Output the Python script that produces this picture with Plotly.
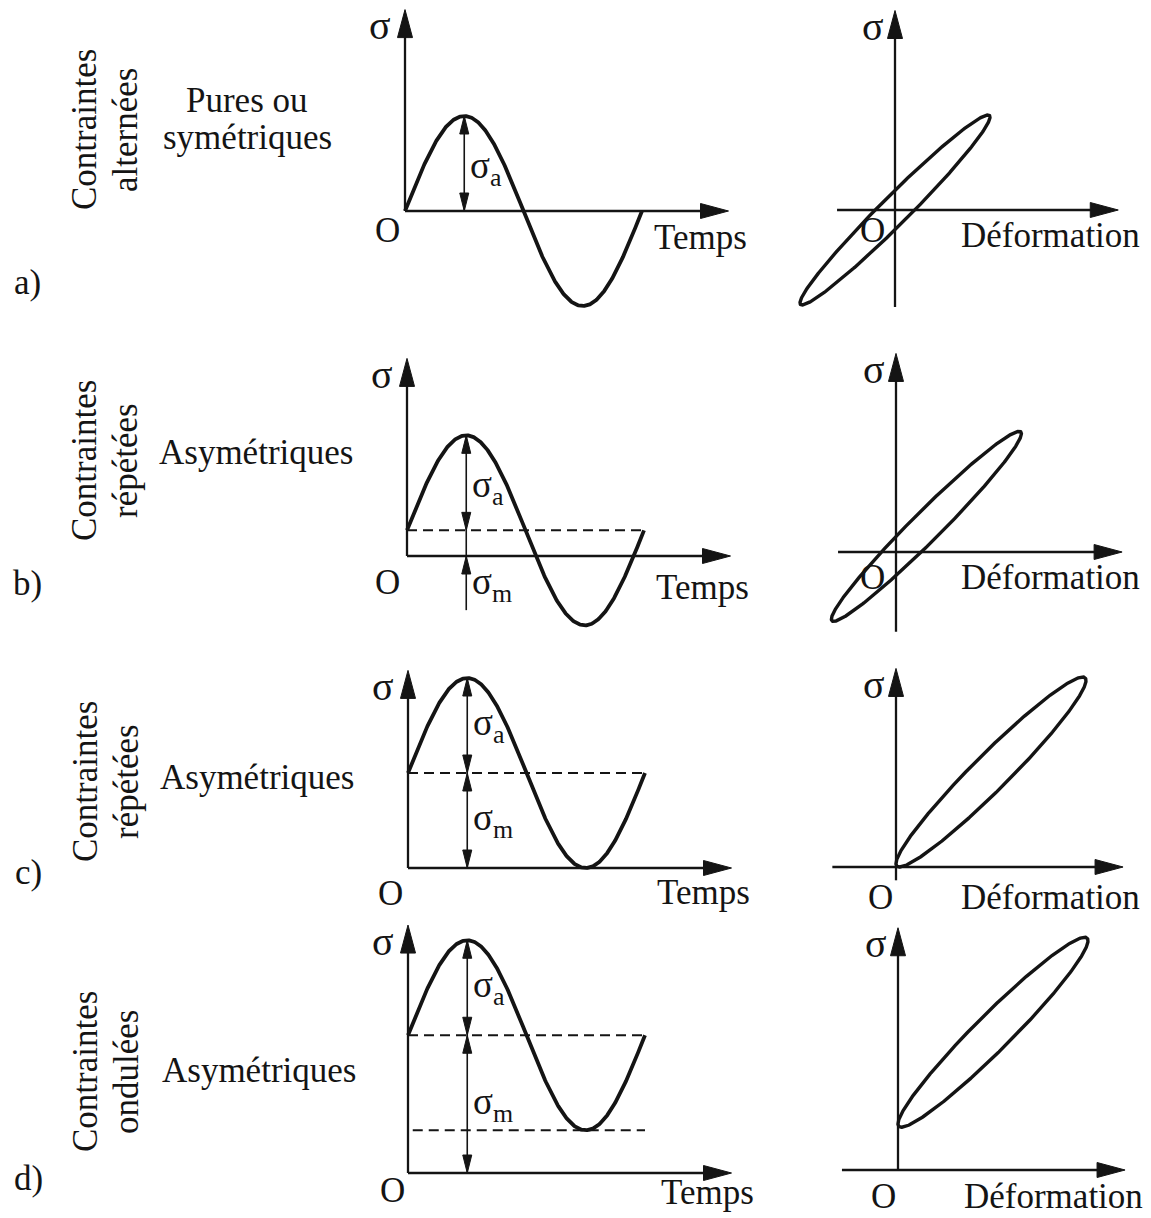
import numpy as np
import plotly.graph_objects as go

W, H = 1151, 1218

# ---------------- data ----------------
case_tags = ["a)", "b)", "c)", "d)"]
loading_family = [("Contraintes", "alternées"), ("Contraintes", "répétées"),
                  ("Contraintes", "répétées"), ("Contraintes", "ondulées")]
loading_kind = [("Pures ou", "symétriques"), ("Asymétriques",), ("Asymétriques",), ("Asymétriques",)]
sigma_amp = [1.0, 1.0, 1.0, 1.0]        # σa (stress amplitude)
sigma_mean = [0.0, 0.27, 1.0, 1.45]     # σm (mean stress)
strain_amp = [1.0, 1.0, 1.0, 1.0]       # strain amplitude
strain_mean = [0.0, 0.32, 1.0, 1.0]     # mean strain
phase_lag = [0.21, 0.22, 0.27, 0.27]    # strain lag behind stress (rad)
time_label = "Temps"
strain_label = "Déformation"

# ---------------- geometry / style ----------------
FONT = "Liberation Serif, Times New Roman, serif"
INK = "#141414"
FS = 35
FS_SIGMA = 40
FS_DIM = 37

PX_PERIOD = 237   # px per load cycle
PX_UNIT = 95      # px per unit of stress / strain

time_origin = [(405, 211), (407, 556), (408, 868), (408, 1173)]
loop_origin = [(895, 210), (896, 552), (896, 867), (898, 1170)]

time_axis_top = [2.12, 2.08, 2.08, 2.61]
time_axis_end = 1.365
loop_top = [2.10, 2.09, 2.09, 2.55]
loop_bottom = [-1.02, -0.84, -0.14, 0.0]
loop_left = [-0.61, -0.61, -0.67, -0.59]
loop_right = [2.35, 2.38, 2.39, 2.39]

family_x = (85, 126)
family_y = [130, 461, 782, 1072]
kind_pos = [(247, (100, 138)), (256, (452,)), (257, (777,)), (259, (1070,))]
tag_pos = [(27, 282), (27, 583), (28, 872), (28, 1178)]

time_O_shift = [(-18, 19), (-20, 26), (-18, 25), (-16, 17)]
time_T_shift = [(295, 26), (295, 31), (295, 24), (299, 19)]
loop_O_shift = [(-23, 20), (-24, 25), (-16, 30), (-15, 26)]
loop_D_shift = [(155, 25), (154, 25), (154, 30), (155, 26)]

fig = go.Figure()
panels = []
layout = {}


def ax_ids(k):
    return ("x" if k == 1 else f"x{k}", "y" if k == 1 else f"y{k}")


def add_panel(origin, sx, sy):
    panels.append(dict(origin=origin, sx=sx, sy=sy))
    k = len(panels)
    ox, oy = origin
    suffix = "" if k == 1 else str(k)
    xa, ya = ax_ids(k)
    layout["xaxis" + suffix] = dict(domain=[0, 1], range=[-ox / sx, (W - ox) / sx],
                                    visible=False, anchor=ya, fixedrange=True)
    layout["yaxis" + suffix] = dict(domain=[0, 1], range=[-(H - oy) / sy, oy / sy],
                                    visible=False, anchor=xa, fixedrange=True)
    return k


def line(k, xs, ys, width, dash="solid"):
    xa, ya = ax_ids(k)
    fig.add_trace(go.Scatter(x=xs, y=ys, mode="lines", xaxis=xa, yaxis=ya,
                             line=dict(color=INK, width=width, dash=dash),
                             hoverinfo="skip", showlegend=False))


def head(k, xt, yt, direction, length, width):
    p = panels[k - 1]
    sx, sy = p["sx"], p["sy"]
    dx, dy = {"up": (0, 1), "down": (0, -1), "right": (1, 0)}[direction]
    bx, by = xt - dx * length / sx, yt - dy * length / sy
    nx, ny = -dy, dx
    xs = [xt, bx + nx * width / 2 / sx, bx - nx * width / 2 / sx, xt]
    ys = [yt, by + ny * width / 2 / sy, by - ny * width / 2 / sy, yt]
    xa, ya = ax_ids(k)
    fig.add_trace(go.Scatter(x=xs, y=ys, mode="lines", fill="toself", fillcolor=INK,
                             xaxis=xa, yaxis=ya, line=dict(color=INK, width=1),
                             hoverinfo="skip", showlegend=False))


annotations = []


def label(k, x, y, text, xshift=0, yshift=0, xanchor="center", size=FS):
    xa, ya = ax_ids(k)
    annotations.append(dict(x=x, y=y, xref=xa, yref=ya, text=text, showarrow=False,
                            xshift=xshift, yshift=yshift, xanchor=xanchor, yanchor="middle",
                            font=dict(family=FONT, size=size, color=INK)))


def paper_text(px, py, text, angle=0):
    annotations.append(dict(x=px / W, y=1 - py / H, xref="paper", yref="paper", text=text,
                            showarrow=False, textangle=angle, xanchor="center", yanchor="middle",
                            font=dict(family=FONT, size=FS, color=INK)))


AX_W = 2.3
AX_HEAD = (28, 15)
DIM_HEAD = (18, 9)
SIG_A = "σ<sub>a</sub>"
SIG_M = "σ<sub>m</sub>"

for i in range(4):
    sa, sm = sigma_amp[i], sigma_mean[i]
    ea, em, phi = strain_amp[i], strain_mean[i], phase_lag[i]

    # ---- stress vs time ----
    k = add_panel(time_origin[i], PX_PERIOD, PX_UNIT)
    top = time_axis_top[i]
    line(k, [0, 0], [0, top - 0.2], AX_W)
    head(k, 0, top, "up", *AX_HEAD)
    line(k, [0, time_axis_end - 0.08], [0, 0], AX_W)
    head(k, time_axis_end, 0, "right", *AX_HEAD)

    if sm > 0:
        line(k, [0, 1.0], [sm, sm], 2, dash="10px,6px")
    if i == 3:
        line(k, [0.02, 1.0], [sm - sa, sm - sa], 2, dash="10px,6px")

    t = np.linspace(0, 1, 400)
    line(k, t, sm + sa * np.sin(2 * np.pi * t), 3.8)

    # dimension arrows at the first peak
    tp = 0.25
    if i == 0:
        line(k, [tp, tp], [0, sa], 1.6)
        head(k, tp, sa, "up", *DIM_HEAD)
        head(k, tp, 0, "down", *DIM_HEAD)
        label(k, tp, sm + 0.45 * sa, SIG_A, xshift=4, xanchor="left", size=FS_DIM)
    elif i == 1:
        line(k, [tp, tp], [-0.57, sm + sa], 1.6)
        head(k, tp, sm + sa, "up", *DIM_HEAD)
        head(k, tp, sm, "down", *DIM_HEAD)
        head(k, tp, 0, "up", *DIM_HEAD)
        label(k, tp, sm + 0.45 * sa, SIG_A, xshift=4, xanchor="left", size=FS_DIM)
        label(k, tp, -0.3, SIG_M, xshift=4, xanchor="left", size=FS_DIM)
    else:
        line(k, [tp, tp], [0, sm + sa], 1.6)
        head(k, tp, sm + sa, "up", *DIM_HEAD)
        head(k, tp, sm, "down", *DIM_HEAD)
        head(k, tp, sm, "up", *DIM_HEAD)
        head(k, tp, 0, "down", *DIM_HEAD)
        label(k, tp, sm + 0.5 * sa, SIG_A, xshift=4, xanchor="left", size=FS_DIM)
        label(k, tp, 0.5 * sm, SIG_M, xshift=4, xanchor="left", size=FS_DIM)

    label(k, 0, top, "σ", xshift=-25, yshift=-16, size=FS_SIGMA)
    label(k, 0, 0, "O", xshift=time_O_shift[i][0], yshift=-time_O_shift[i][1])
    label(k, 0, 0, time_label, xshift=time_T_shift[i][0], yshift=-time_T_shift[i][1])

    # ---- stress vs strain loop ----
    k = add_panel(loop_origin[i], PX_UNIT, PX_UNIT)
    line(k, [0, 0], [loop_bottom[i], loop_top[i] - 0.2], AX_W)
    head(k, 0, loop_top[i], "up", *AX_HEAD)
    line(k, [loop_left[i], loop_right[i] - 0.2], [0, 0], AX_W)
    head(k, loop_right[i], 0, "right", *AX_HEAD)

    th = np.linspace(0, 2 * np.pi, 500)
    line(k, em + ea * np.sin(th - phi), sm + sa * np.sin(th), 3.4)

    label(k, 0, loop_top[i], "σ", xshift=-22, yshift=-16, size=FS_SIGMA)
    label(k, 0, 0, "O", xshift=loop_O_shift[i][0], yshift=-loop_O_shift[i][1])
    label(k, 0, 0, strain_label, xshift=loop_D_shift[i][0], yshift=-loop_D_shift[i][1])

    # ---- row captions ----
    for fx, txt in zip(family_x, loading_family[i]):
        paper_text(fx, family_y[i], txt, angle=-90)
    kx, kys = kind_pos[i]
    for ky, txt in zip(kys, loading_kind[i]):
        paper_text(kx, ky, txt)
    paper_text(*tag_pos[i], case_tags[i])

fig.update_layout(
    width=W, height=H,
    margin=dict(l=0, r=0, t=0, b=0),
    paper_bgcolor="white", plot_bgcolor="rgba(0,0,0,0)",
    showlegend=False,
    annotations=annotations,
    **layout,
)

fig.write_html("out.html", config={"displayModeBar": False})
